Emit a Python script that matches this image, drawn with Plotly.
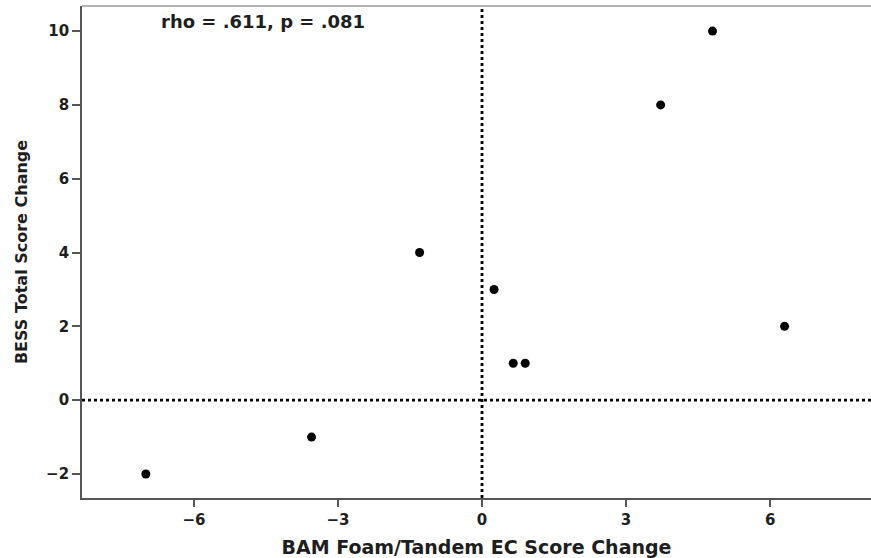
import plotly.graph_objects as go

# Change scores per participant
bam_change = [-7.0, -3.55, -1.3, 0.25, 0.65, 0.9, 3.72, 4.8, 6.3]
bess_change = [-2, -1, 4, 3, 1, 1, 8, 10, 2]

x_ticks = [-6, -3, 0, 3, 6]
y_ticks = [-2, 0, 2, 4, 6, 8, 10]

font_family = "DejaVu Sans"
ink = "#1e1e1e"
bold = dict(family=font_family, color=ink, weight="bold")

fig = go.Figure()
fig.add_trace(go.Scatter(
    x=bam_change, y=bess_change, mode="markers",
    marker=dict(color="black", size=9, line=dict(width=0)),
    showlegend=False, hoverinfo="x+y",
))

# Reference lines at zero
fig.add_shape(type="line", xref="x", yref="paper", x0=0, x1=0, y0=0, y1=1,
              line=dict(color="black", width=2.8, dash="dot"))
fig.add_shape(type="line", xref="paper", yref="y", x0=0, x1=1, y0=0, y1=0,
              line=dict(color="black", width=2.8, dash="dot"))
# Top frame line
fig.add_shape(type="line", xref="paper", yref="paper", x0=0, x1=1, y0=1, y1=1,
              line=dict(color="#9a9a9a", width=1.5))

fig.add_annotation(text="rho = .611, p = .081", xref="x", yref="paper",
                   x=-6.72, y=0.968, xanchor="left", yanchor="middle",
                   showarrow=False, font=dict(size=18, **bold))

fig.update_layout(
    width=871, height=558,
    margin=dict(l=82, r=0, t=6, b=60),
    paper_bgcolor="white", plot_bgcolor="white",
    font=dict(family=font_family, size=15, color=ink),
    xaxis=dict(
        range=[-8.33, 8.1], tickvals=x_ticks, ticks="outside", ticklen=7,
        tickwidth=1.5, tickcolor="#555555", showline=True, linecolor="#555555",
        linewidth=1.8, showgrid=False, zeroline=False,
        tickfont=dict(size=15, **bold),
        title=dict(text="BAM Foam/Tandem EC Score Change", standoff=13,
                   font=dict(size=19, **bold)),
    ),
    yaxis=dict(
        range=[-2.65, 10.68], tickvals=y_ticks, ticks="outside", ticklen=8,
        tickwidth=1.5, tickcolor="#555555", showline=True, linecolor="#555555",
        linewidth=1.8, showgrid=False, zeroline=False,
        tickfont=dict(size=15, **bold),
        title=dict(text="BESS Total Score Change", standoff=14,
                   font=dict(size=16, **bold)),
    ),
)

fig.write_html("out.html")
